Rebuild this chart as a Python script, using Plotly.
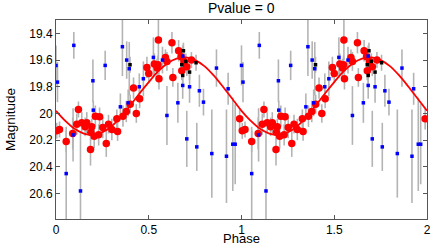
import plotly.graph_objects as go

# ---- data (phase in [0,1]; plotted twice: phase and phase+1) ----
red_phase = [0.004, 0.019, 0.055, 0.090, 0.121, 0.112, 0.139, 0.166, 0.157, 0.193,
             0.188, 0.186, 0.212, 0.206, 0.235, 0.230, 0.252, 0.283, 0.271, 0.301,
             0.328, 0.332, 0.361, 0.379, 0.400, 0.433, 0.418, 0.451, 0.490, 0.500,
             0.530, 0.545, 0.550, 0.552, 0.555, 0.590, 0.598, 0.625, 0.630, 0.661,
             0.674, 0.678, 0.690, 0.705, 0.730, 0.990]
red_mag = [20.13, 20.12, 20.21, 20.15, 19.97, 20.08, 20.07, 20.07, 20.10, 20.10,
           20.14, 20.27, 20.02, 20.17, 20.025, 20.16, 20.105, 20.08, 20.225, 20.12,
           20.04, 20.135, 20.02, 19.985, 19.93, 20.00, 19.81, 19.89, 19.655, 19.70,
           19.63, 19.66, 19.635, 19.45, 19.74, 19.58, 19.61, 19.47, 19.73, 19.53,
           19.575, 19.68, 19.61, 19.65, 19.60, 20.04]
red_err = [0.06, 0.06, 0.08, 0.12, 0.06, 0.08, 0.08, 0.08, 0.07, 0.06,
           0.06, 0.12, 0.08, 0.09, 0.07, 0.08, 0.08, 0.07, 0.10, 0.08,
           0.07, 0.07, 0.08, 0.08, 0.07, 0.07, 0.08, 0.07, 0.08, 0.07,
           0.08, 0.07, 0.07, 0.15, 0.08, 0.06, 0.07, 0.08, 0.07, 0.08,
           0.06, 0.07, 0.07, 0.07, 0.06, 0.08]

blue_phase = [0.000, 0.008, 0.055, 0.092, 0.096, 0.132, 0.199, 0.201, 0.265, 0.347,
              0.358, 0.381, 0.395, 0.389, 0.449, 0.471, 0.525, 0.574, 0.598, 0.657,
              0.683, 0.683, 0.720, 0.705, 0.759, 0.773, 0.795, 0.840, 0.865, 0.919,
              0.928, 0.953, 0.966]
blue_mag = [19.64, 19.765, 20.45, 20.16, 19.49, 20.58, 19.755, 19.975, 19.64, 19.95,
            19.50, 19.60, 19.665, 19.92, 19.80, 19.74, 19.58, 19.60, 20.015, 19.92,
            19.57, 19.79, 19.80, 20.19, 20.25, 19.83, 19.915, 20.30, 19.66, 20.32,
            19.815, 20.23, 20.23]
blue_err = [0.15, 0.15, 0.35, 0.20, 0.10, 0.45, 0.16, 0.07, 0.11, 0.10,
            0.22, 0.14, 0.20, 0.10, 0.10, 0.13, 0.15, 0.10, 0.22, 0.15,
            0.08, 0.10, 0.12, 0.21, 0.18, 0.12, 0.10, 0.33, 0.14, 0.35,
            0.12, 0.35, 0.30]

black_phase = [0.399, 0.687, 0.700, 0.678, 0.720, 0.683, 0.755]
black_mag = [19.635, 19.53, 19.61, 19.635, 19.69, 19.715, 19.62]
black_err = [0.06, 0.06, 0.06, 0.06, 0.06, 0.06, 0.06]

# fitted model curve
model_phase = [0.00, 0.05, 0.10, 0.15, 0.20, 0.25, 0.30, 0.35, 0.40, 0.45, 0.50,
               0.55, 0.60, 0.65, 0.70, 0.75, 0.80, 0.85, 0.90, 0.95, 1.00]
model_mag = [19.98, 20.055, 20.115, 20.15, 20.16, 20.14, 20.095, 20.025, 19.94, 19.85, 19.765,
             19.685, 19.625, 19.59, 19.58, 19.60, 19.645, 19.715, 19.80, 19.89, 19.98]

x_ticks = [0, 0.5, 1, 1.5, 2]
x_labels = ["0", "0.5", "1", "1.5", "2"]
y_ticks = [19.4, 19.6, 19.8, 20.0, 20.2, 20.4, 20.6]
y_labels = ["19.4", "19.6", "19.8", "20", "20.2", "20.4", "20.6"]


def twice(ph):
    return list(ph) + [p + 1 for p in ph]


def twice_v(v):
    return list(v) + list(v)


FONT = "Liberation Sans, Arial, Helvetica, sans-serif"
BAR = "#b4b4b4"

fig = go.Figure()

# error bars first (behind every marker)
for ph, mg, er in [(blue_phase, blue_mag, blue_err),
                   (red_phase, red_mag, red_err),
                   (black_phase, black_mag, black_err)]:
    fig.add_trace(go.Scatter(
        x=twice(ph), y=twice_v(mg), mode="markers",
        marker=dict(size=1, color="rgba(0,0,0,0)"),
        error_y=dict(type="data", array=twice_v(er), symmetric=True,
                     color=BAR, thickness=1.6, width=0),
        hoverinfo="skip", showlegend=False, cliponaxis=True))

fig.add_trace(go.Scatter(
    x=twice(red_phase), y=twice_v(red_mag), mode="markers",
    marker=dict(symbol="circle", size=7.5, color="#ff0000", line=dict(width=0)),
    showlegend=False))

model_x = list(model_phase) + [p + 1 for p in model_phase[1:]]
model_y = list(model_mag) + list(model_mag[1:])
fig.add_trace(go.Scatter(
    x=model_x, y=model_y, mode="lines", line=dict(color="#ff0000", width=1.8, shape="spline"),
    showlegend=False))

fig.add_trace(go.Scatter(
    x=twice(blue_phase), y=twice_v(blue_mag), mode="markers",
    marker=dict(symbol="square", size=3.5, color="#0000ff", line=dict(width=0)),
    showlegend=False))

fig.add_trace(go.Scatter(
    x=twice(black_phase), y=twice_v(black_mag), mode="markers",
    marker=dict(symbol="square", size=3.5, color="#000000", line=dict(width=0)),
    showlegend=False))

axis_common = dict(showgrid=False, zeroline=False, showline=True, linecolor="#555555",
                   linewidth=1, mirror="ticks", ticks="inside", ticklen=4, automargin=False,
                   tickcolor="#555555", tickfont=dict(family=FONT, size=12, color="#000000"))

fig.update_layout(
    width=436, height=245,
    margin=dict(l=56, r=9, t=20, b=26, autoexpand=False),
    paper_bgcolor="white", plot_bgcolor="white",
    xaxis=dict(range=[0, 2], tickvals=x_ticks, ticktext=x_labels, **axis_common),
    yaxis=dict(range=[20.79, 19.3], tickvals=y_ticks, ticktext=y_labels, **axis_common),
    annotations=[
        dict(text="Pvalue = 0", x=0.5, xref="paper", y=1 + (20 - 8.5) / 199.0, yref="paper",
             yanchor="middle", showarrow=False,
             font=dict(family=FONT, size=14, color="#000000")),
        dict(text="Phase", x=0.5, xref="paper", y=-(238.3 - 219) / 199.0, yref="paper",
             yanchor="middle", showarrow=False,
             font=dict(family=FONT, size=13, color="#000000")),
        dict(text="Magnitude", x=-(56 - 10.5) / 371.0, xref="paper", y=0.5, yref="paper",
             textangle=-90, xanchor="center", yanchor="middle", showarrow=False,
             font=dict(family=FONT, size=13.5, color="#000000")),
    ],
)

fig.write_html("out.html", config={"displayModeBar": False},
               post_script="document.body.style.margin='0';document.body.style.padding='0';")
